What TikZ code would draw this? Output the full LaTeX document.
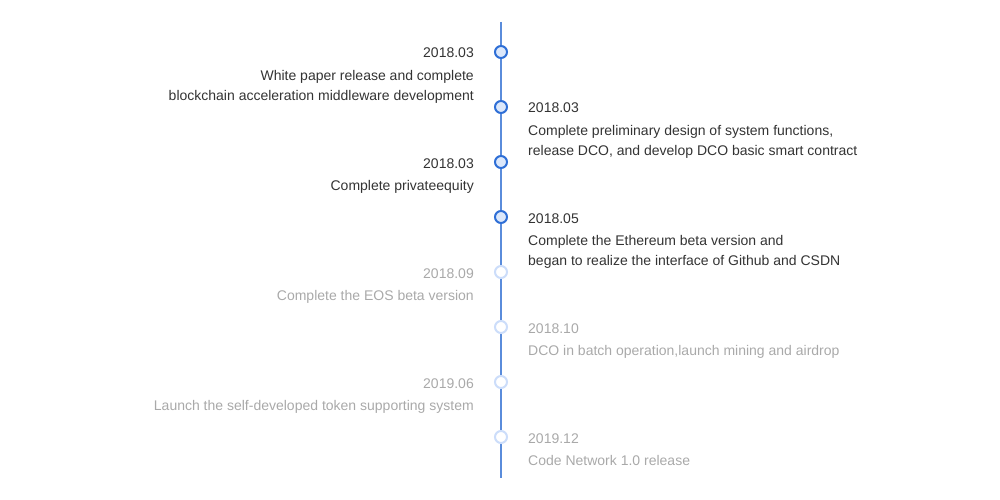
\documentclass[tikz,border=0pt]{standalone}
\usepackage{fontspec}
\setmainfont{Liberation Sans}
\usetikzlibrary{positioning}

\definecolor{lineblue}{HTML}{5A8CDB}
\definecolor{dotblue}{HTML}{2F6FD6}
\definecolor{dotfill}{HTML}{DCE8FB}
\definecolor{dotpale}{HTML}{CCDDFA}
\definecolor{textdark}{HTML}{333333}
\definecolor{textpale}{HTML}{A9A9A9}

\tikzset{
  done/.style={circle, draw=dotblue, fill=dotfill, line width=2pt, minimum size=12pt, inner sep=0pt},
  todo/.style={circle, draw=dotpale, fill=white, line width=2pt, minimum size=12pt, inner sep=0pt},
  datelabel/.style={font=\fontsize{14}{20}\selectfont, inner sep=0pt},
  desclabel/.style={font=\fontsize{14}{20}\selectfont, inner sep=0pt},
}

\begin{document}
\begin{tikzpicture}[x=1pt,y=-1pt]
    \useasboundingbox (0,0) rectangle (1000,500);
    % timeline
    \coordinate (top) at (501,22);
    \coordinate (bottom) at (501,478);
    \foreach \n/\y/\s in {1/52/done, 2/107/done, 3/162/done, 4/217/done,
                          5/272/todo, 6/327/todo, 7/382/todo, 8/437/todo}
        \node[\s] (d\n) at (501,\y) {};
    \draw[lineblue, line width=1.3pt] (top) -- (d1) -- (d2) -- (d3) -- (d4)
        -- (d5) -- (d6) -- (d7) -- (d8) -- (bottom);

    % left side
    \node[datelabel, textdark, anchor=base east] (t1) at (474,58) {2018.03};
    \node[desclabel, textdark, anchor=north east, align=right] (w1) at (474,70)
        {White paper release and complete\\blockchain acceleration middleware development};
    \node[datelabel, textdark, anchor=base east] (t3) at (474,168) {2018.03};
    \node[desclabel, textdark, anchor=north east, align=right] (w3) at (474,180)
        {Complete privateequity};
    \node[datelabel, textpale, anchor=base east] (t5) at (474,278) {2018.09};
    \node[desclabel, textpale, anchor=north east, align=right] (w5) at (474,290)
        {Complete the EOS beta version};
    \node[datelabel, textpale, anchor=base east] (t7) at (474,388) {2019.06};
    \node[desclabel, textpale, anchor=north east, align=right] (w7) at (474,400)
        {Launch the self-developed token supporting system};

    % right side
    \node[datelabel, textdark, anchor=base west] (t2) at (528,113) {2018.03};
    \node[desclabel, textdark, anchor=north west, align=left] (w2) at (528,125)
        {Complete preliminary design of system functions,\\release DCO, and develop DCO basic smart contract};
    \node[datelabel, textdark, anchor=base west] (t4) at (528,223) {2018.05};
    \node[desclabel, textdark, anchor=north west, align=left] (w4) at (528,235)
        {Complete the Ethereum beta version and\\began to realize the interface of Github and CSDN};
    \node[datelabel, textpale, anchor=base west] (t6) at (528,333) {2018.10};
    \node[desclabel, textpale, anchor=north west, align=left] (w6) at (528,345)
        {DCO in batch operation,launch mining and airdrop};
    \node[datelabel, textpale, anchor=base west] (t8) at (528,443) {2019.12};
    \node[desclabel, textpale, anchor=north west, align=left] (w8) at (528,455)
        {Code Network 1.0 release};
\end{tikzpicture}
\end{document}
